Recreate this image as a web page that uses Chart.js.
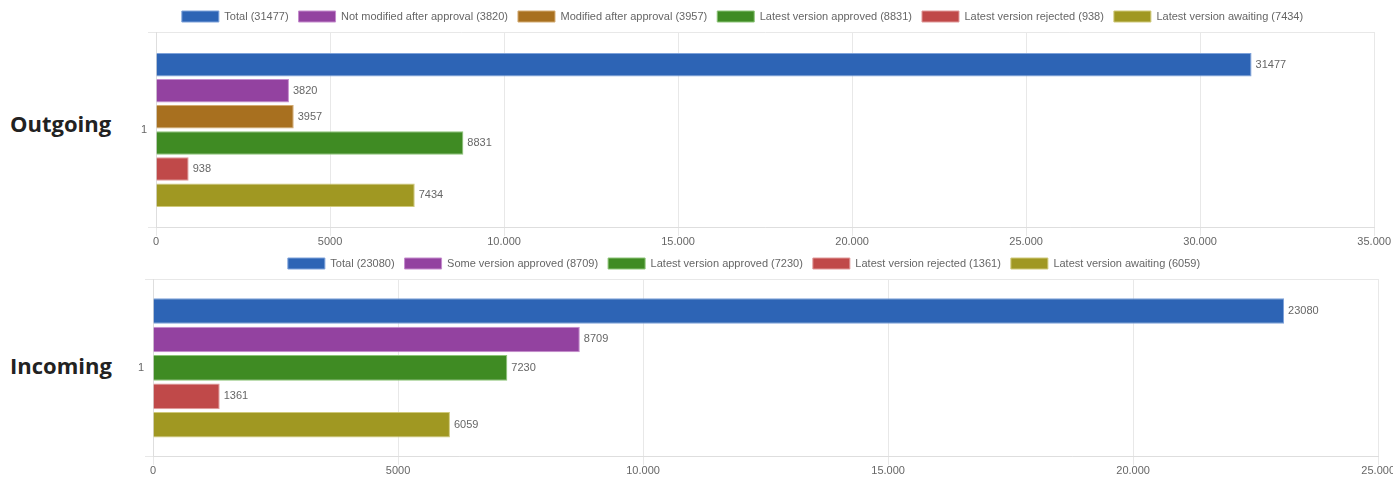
<!DOCTYPE html>
<html>
<head>
<meta charset="utf-8">
<script src="https://cdn.jsdelivr.net/npm/chart.js@4.4.1/dist/chart.umd.min.js"></script>
<style>
    body { margin: 0; background: #fff; width: 1393px; height: 478px; overflow: hidden; position: relative; }
    canvas { position: absolute; }
    .side { position: absolute; left: 10px; font-family: "Open Sans", sans-serif; font-weight: bold; font-size: 22px; color: #222; }
</style>
</head>
<body>
<div class="side" style="top:108px">Outgoing</div>
<div class="side" style="top:350px">Incoming</div>
<canvas id="outChart" width="1297" height="250" style="left:94px; top:-1px"></canvas>
<canvas id="inChart" width="1302" height="232" style="left:93px; top:246px"></canvas>
<script>
// Outgoing
const outLabels = ['Total', 'Not modified after approval', 'Modified after approval', 'Latest version approved', 'Latest version rejected', 'Latest version awaiting'];
const outValues = [31477, 3820, 3957, 8831, 938, 7434];
const outTicks = ['0', '5000', '10.000', '15.000', '20.000', '25.000', '30.000', '35.000'];

// Incoming
const inLabels = ['Total', 'Some version approved', 'Latest version approved', 'Latest version rejected', 'Latest version awaiting'];
const inValues = [23080, 8709, 7230, 1361, 6059];
const inTicks = ['0', '5000', '10.000', '15.000', '20.000', '25.000'];

const categories = ['1'];

const colors = {
    blue:   ['#2d64b5', '#7ea2da'],
    purple: ['#9342a0', '#c58ccd'],
    brown:  ['#a8701f', '#d3ab72'],
    green:  ['#3f8b23', '#8dc478'],
    red:    ['#c04949', '#e09a9a'],
    olive:  ['#a09822', '#cfc97a']
};
const outColors = ['blue', 'purple', 'brown', 'green', 'red', 'olive'];
const inColors = ['blue', 'purple', 'green', 'red', 'olive'];

Chart.defaults.font.family = '"Liberation Sans", Arial, sans-serif';
Chart.defaults.font.size = 11;
Chart.defaults.color = '#666';

// draws the value at the end of every bar
const valueLabels = {
    id: 'valueLabels',
    afterDatasetsDraw(chart) {
        const c = chart.ctx;
        c.save();
        c.font = '11px "Liberation Sans", Arial, sans-serif';
        c.fillStyle = '#666';
        c.textBaseline = 'middle';
        chart.data.datasets.forEach((ds, i) => {
            chart.getDatasetMeta(i).data.forEach((bar, j) => {
                c.fillText(ds.data[j], bar.x + 4, bar.y);
            });
        });
        c.restore();
    }
};

function makeChart(id, labels, values, cols, ticks, max, axisWidth) {
    const datasets = labels.map((l, i) => ({
        label: l + ' (' + values[i] + ')',
        data: [values[i]],
        backgroundColor: colors[cols[i]][0],
        borderColor: colors[cols[i]][1],
        borderWidth: 1
    }));
    return new Chart(document.getElementById(id), {
        type: 'bar',
        data: { labels: categories, datasets: datasets },
        plugins: [valueLabels],
        options: {
            indexAxis: 'y',
            responsive: false,
            animation: false,
            layout: { padding: { top: 2 } },
            plugins: {
                legend: { labels: { boxWidth: 37, boxHeight: 11, padding: 10 } },
                tooltip: { enabled: false }
            },
            scales: {
                x: {
                    min: 0,
                    max: max,
                    ticks: { stepSize: 5000, padding: 0, callback: (v) => ticks[v / 5000] },
                    grid: { color: '#e8e8e8' },
                    border: { color: '#dedede' }
                },
                y: {
                    afterFit: (s) => { s.width = axisWidth; },
                    ticks: { padding: 1 },
                    grid: { color: '#e8e8e8' },
                    border: { color: '#dedede' }
                }
            }
        }
    });
}

makeChart('outChart', outLabels, outValues, outColors, outTicks, 35000, 62);
makeChart('inChart', inLabels, inValues, inColors, inTicks, 25000, 60);
</script>
</body>
</html>
